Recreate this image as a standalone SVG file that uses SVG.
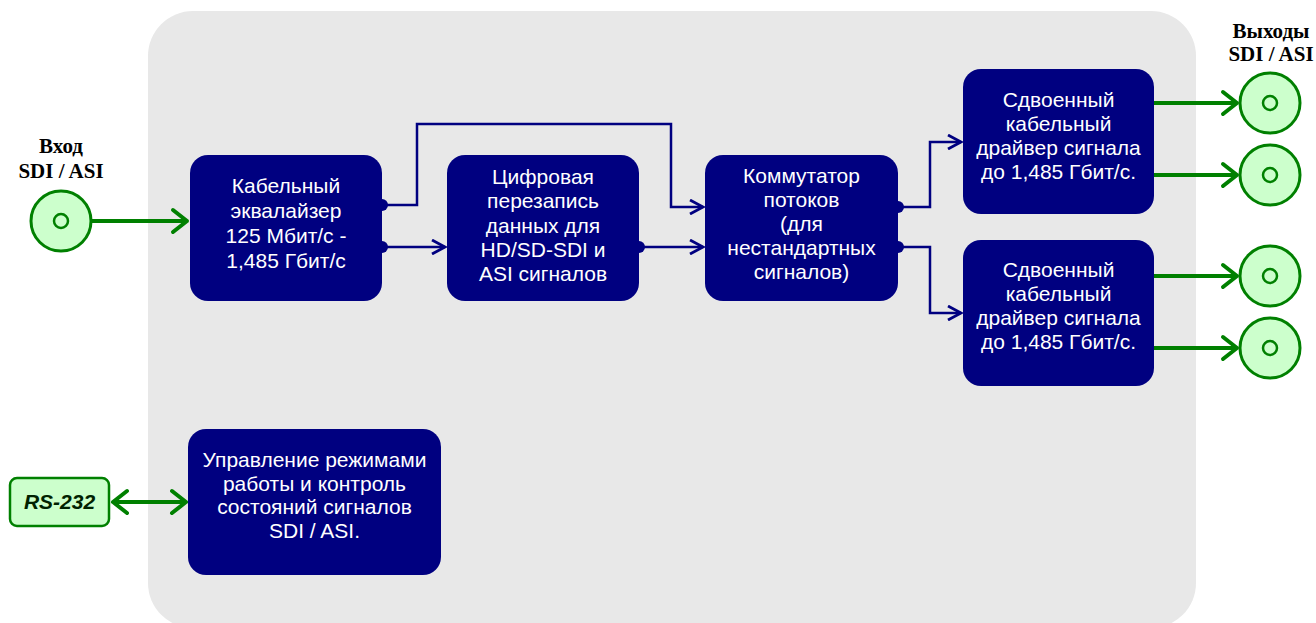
<svg xmlns="http://www.w3.org/2000/svg" width="1316" height="623" viewBox="0 0 1316 623">
<defs>
<style>
.node{fill:#000080;}
.nt{fill:#ffffff;font-family:"Liberation Sans",Arial,sans-serif;font-size:21px;text-anchor:middle;}
.lbl{fill:#000000;font-family:"Liberation Serif","Times New Roman",serif;font-size:21px;font-weight:bold;text-anchor:middle;}
.conn{fill:none;stroke:#000080;stroke-width:2.5;}
.g{fill:none;stroke:#008000;stroke-width:4;stroke-linecap:round;stroke-linejoin:round;}
.jack{fill:#ccffcc;stroke:#008000;stroke-width:3;}
.pin{fill:none;stroke:#008000;stroke-width:2.5;}
.dot{fill:#000080;}
</style>
<marker id="ah" viewBox="0 0 16 16" refX="14" refY="8" markerWidth="16" markerHeight="16" markerUnits="userSpaceOnUse" orient="auto">
<path d="M1,1 L14,8 L1,15" fill="none" stroke="#000080" stroke-width="2.8"/>
</marker>
</defs>
<rect x="148" y="11" width="1048" height="617" rx="45" fill="#e8e8e8"/>

<g id="connectors">
<path class="conn" d="M382,205 H417 V124 H671 V207 H703" marker-end="url(#ah)"/>
<path class="conn" d="M382,247 H445" marker-end="url(#ah)"/>
<path class="conn" d="M639,247 H703" marker-end="url(#ah)"/>
<path class="conn" d="M898,207 H930 V142 H961" marker-end="url(#ah)"/>
<path class="conn" d="M898,247 H930 V313 H961" marker-end="url(#ah)"/>
<circle class="dot" cx="382" cy="205" r="6"/>
<circle class="dot" cx="382" cy="247" r="6"/>
<circle class="dot" cx="639" cy="247" r="6"/>
<circle class="dot" cx="898" cy="207" r="6"/>
<circle class="dot" cx="898" cy="247" r="6"/>
<path class="g" d="M91,221 H187 M173,210 L187,221 L173,232"/>
<path class="g" d="M1154,103 H1237 M1223,92 L1237,103 L1223,114"/>
<path class="g" d="M1154,175 H1237 M1223,164 L1237,175 L1223,186"/>
<path class="g" d="M1154,276 H1237 M1223,265 L1237,276 L1223,287"/>
<path class="g" d="M1154,348 H1237 M1223,337 L1237,348 L1223,359"/>
<path class="g" d="M113,502 H186 M127,491 L113,502 L127,513 M172,491 L186,502 L172,513"/>
</g>

<g id="input-label">
<text class="lbl" x="61" y="153">Вход</text>
<text class="lbl" x="61" y="178">SDI / ASI</text>
</g>
<g id="output-label">
<text class="lbl" x="1271" y="38">Выходы</text>
<text class="lbl" x="1271" y="61">SDI / ASI</text>
</g>

<g id="in-jack">
<circle class="jack" cx="61" cy="221" r="30"/>
<circle class="pin" cx="61" cy="221" r="7"/>
</g>
<g id="out-jack-1"><circle class="jack" cx="1270" cy="103" r="30"/><circle class="pin" cx="1270" cy="103" r="7"/></g>
<g id="out-jack-2"><circle class="jack" cx="1270" cy="175" r="30"/><circle class="pin" cx="1270" cy="175" r="7"/></g>
<g id="out-jack-3"><circle class="jack" cx="1270" cy="276" r="30"/><circle class="pin" cx="1270" cy="276" r="7"/></g>
<g id="out-jack-4"><circle class="jack" cx="1270" cy="348" r="30"/><circle class="pin" cx="1270" cy="348" r="7"/></g>

<g id="rs232">
<rect x="10" y="478" width="99" height="48" rx="7" fill="#ccffcc" stroke="#008000" stroke-width="2.5"/>
<text x="59.5" y="509" fill="#002200" font-family="'Liberation Sans',Arial,sans-serif" font-size="21" font-weight="bold" font-style="italic" text-anchor="middle">RS-232</text>
</g>

<g id="equalizer">
<rect class="node" x="190" y="155" width="192" height="146" rx="18"/>
<text class="nt" x="286" y="193">Кабельный</text>
<text class="nt" x="286" y="218">эквалайзер</text>
<text class="nt" x="286" y="243">125 Мбит/с -</text>
<text class="nt" x="286" y="268">1,485 Гбит/с</text>
</g>

<g id="reclocker">
<rect class="node" x="447" y="155" width="192" height="146" rx="18"/>
<text class="nt" x="543" y="184">Цифровая</text>
<text class="nt" x="543" y="208">перезапись</text>
<text class="nt" x="543" y="233">данных для</text>
<text class="nt" x="543" y="257">HD/SD-SDI и</text>
<text class="nt" x="543" y="281">ASI сигналов</text>
</g>

<g id="switch">
<rect class="node" x="705" y="155" width="193" height="146" rx="18"/>
<text class="nt" x="801.5" y="183">Коммутатор</text>
<text class="nt" x="801.5" y="207">потоков</text>
<text class="nt" x="801.5" y="231">(для</text>
<text class="nt" x="801.5" y="255">нестандартных</text>
<text class="nt" x="801.5" y="279">сигналов)</text>
</g>

<g id="driver-1">
<rect class="node" x="963" y="69" width="191" height="145" rx="18"/>
<text class="nt" x="1058.5" y="107">Сдвоенный</text>
<text class="nt" x="1058.5" y="131">кабельный</text>
<text class="nt" x="1058.5" y="155">драйвер сигнала</text>
<text class="nt" x="1058.5" y="179">до 1,485 Гбит/с.</text>
</g>

<g id="driver-2">
<rect class="node" x="963" y="240" width="191" height="146" rx="18"/>
<text class="nt" x="1058.5" y="277">Сдвоенный</text>
<text class="nt" x="1058.5" y="301">кабельный</text>
<text class="nt" x="1058.5" y="325">драйвер сигнала</text>
<text class="nt" x="1058.5" y="349">до 1,485 Гбит/с.</text>
</g>

<g id="control">
<rect class="node" x="188" y="429" width="253" height="146" rx="18"/>
<text class="nt" x="314.5" y="467">Управление режимами</text>
<text class="nt" x="314.5" y="491">работы и контроль</text>
<text class="nt" x="314.5" y="514">состояний сигналов</text>
<text class="nt" x="314.5" y="538">SDI / ASI.</text>
</g>
</svg>
